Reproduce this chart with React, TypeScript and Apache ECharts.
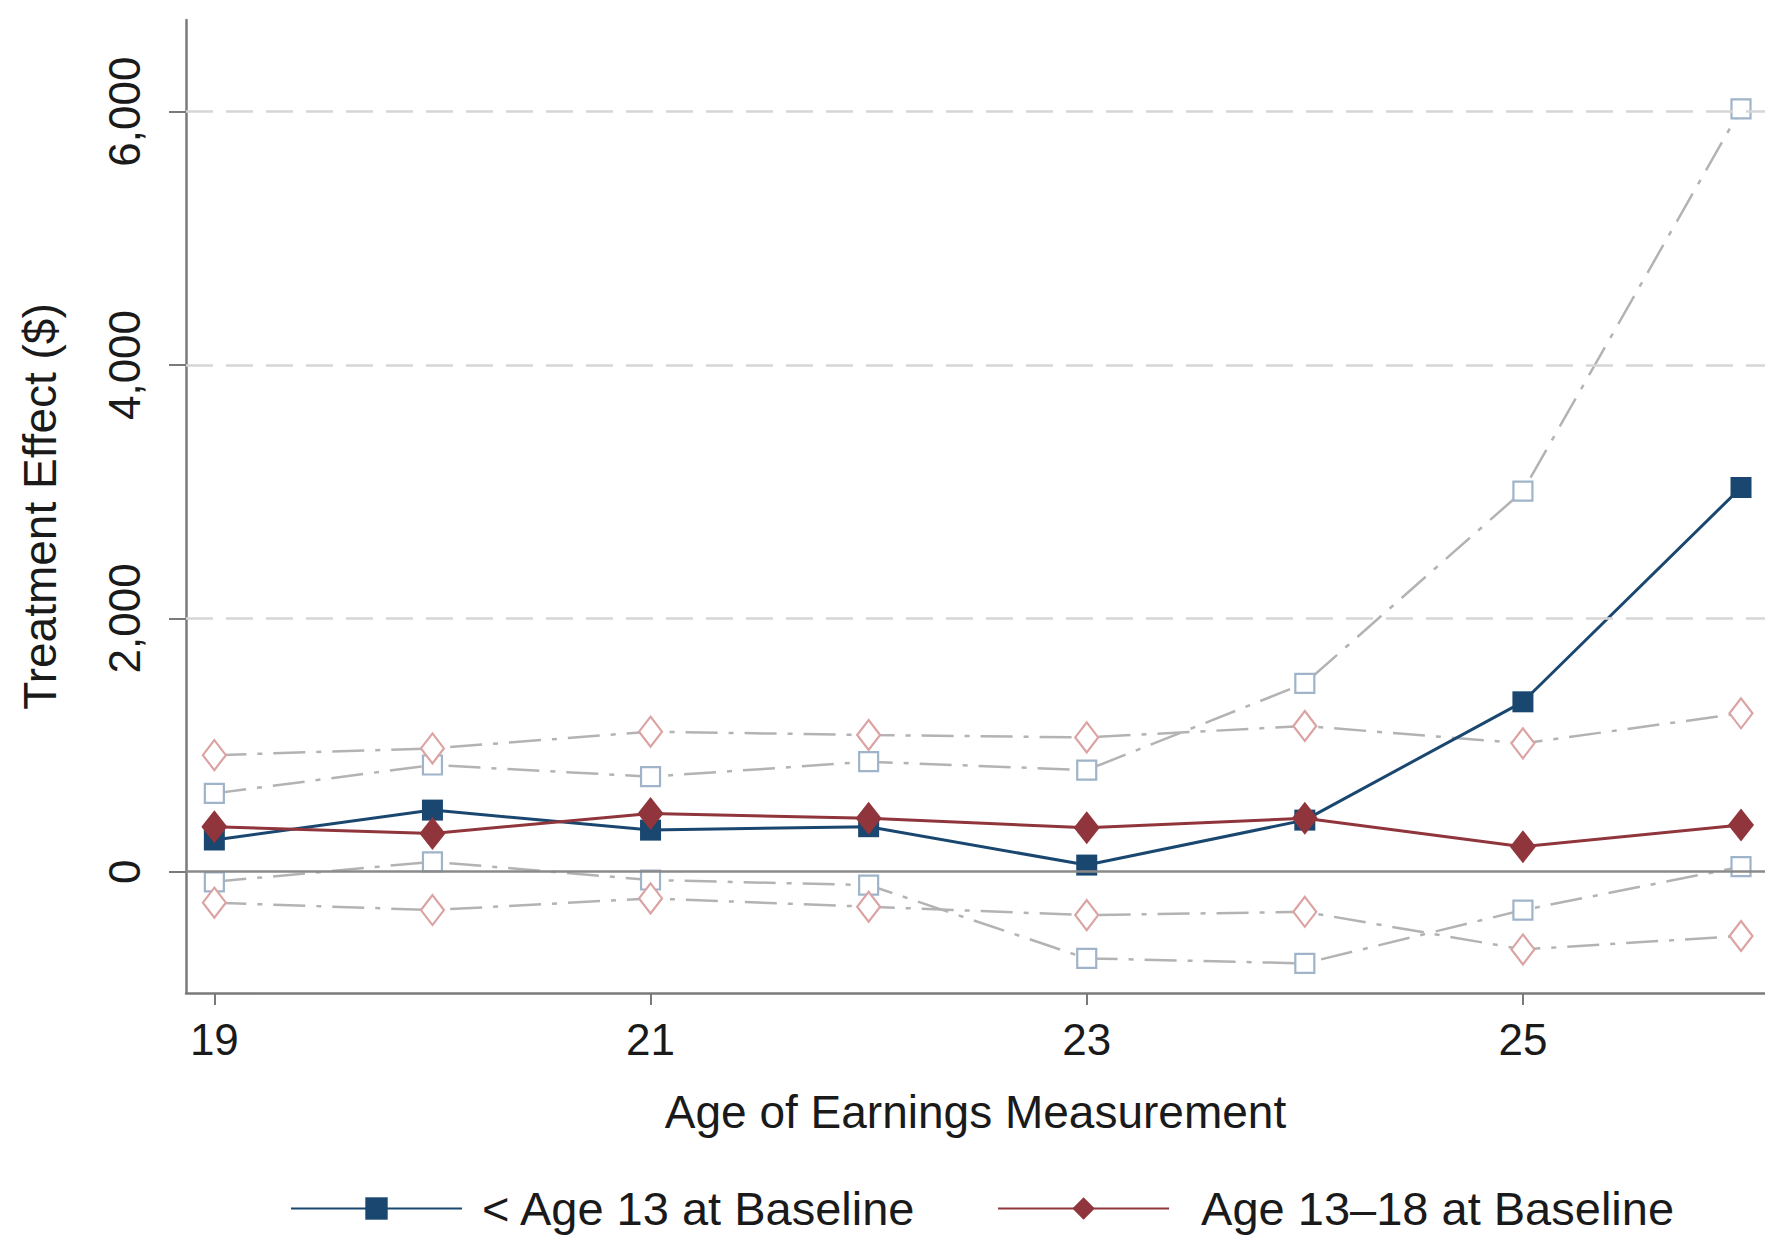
import React, { useEffect, useRef } from "react";
import * as echarts from "echarts";

const ages = [19, 20, 21, 22, 23, 24, 25, 26];
const under13 = [250, 486, 328, 355, 52, 407, 1341, 3033];
const age13to18 = [355, 302, 460, 421, 347, 421, 197, 368];
const under13Hi = [618, 842, 750, 868, 802, 1487, 3005, 6022];
const under13Lo = [-80, 78, -66, -106, -685, -724, -303, 39];
const age13to18Hi = [920, 973, 1105, 1079, 1060, 1150, 1013, 1250];
const age13to18Lo = [-245, -303, -211, -277, -343, -317, -614, -508];
const xTicks = [19, 21, 23, 25];
const yTicks = [0, 2000, 4000, 6000];
const gridValues = [2000, 4000, 6000];
const zeroLine = [0];
const legendNames = ["< Age 13 at Baseline", "Age 13\u201318 at Baseline"];

const FONT = "'Liberation Sans', Arial, Helvetica, sans-serif";
const NAVY = "#1a476f";
const MAROON = "#90353b";
const CI_LINE = "#b3b3b3";

const pairs = (vals: number[]) => ages.map((a, i) => [a, vals[i]]);

export default function App() {
  const ref = useRef<HTMLDivElement>(null);
  useEffect(() => {
    if (!ref.current) return;
    const chart = echarts.init(ref.current, undefined, { renderer: "svg" });
    const ciSeries = (name: string, vals: number[], symbol: string, size: any, color: string) => ({
      name,
      type: "line",
      data: pairs(vals),
      symbol,
      symbolSize: size,
      z: 2,
      lineStyle: { color: CI_LINE, width: 2.5, type: [32, 11, 5, 11] },
      itemStyle: { color: "#ffffff", borderColor: color, borderWidth: 2.2 },
      silent: true,
    });
    chart.setOption({
      animation: false,
      backgroundColor: "#ffffff",
      textStyle: { fontFamily: FONT },
      grid: { left: 186, right: 0, top: 20, bottom: 243, containLabel: false },
      xAxis: {
        type: "value",
        min: 18.87,
        max: 26.11,
        name: "Age of Earnings Measurement",
        nameLocation: "middle",
        nameGap: 96,
        nameTextStyle: { fontSize: 46, color: "#1a1a1a", fontFamily: FONT },
        axisLine: { show: true, onZero: false, lineStyle: { color: "#7a7a7a", width: 2.5 } },
        axisTick: { show: true, customValues: xTicks, length: 12, lineStyle: { color: "#7a7a7a", width: 2 } },
        axisLabel: { customValues: xTicks, fontSize: 44, color: "#1a1a1a", margin: 24, fontFamily: FONT },
        splitLine: { show: false },
      },
      yAxis: {
        type: "value",
        min: -958,
        max: 6724,
        name: "Treatment Effect ($)",
        nameLocation: "middle",
        nameGap: 123,
        nameTextStyle: { fontSize: 46, color: "#1a1a1a", fontFamily: FONT },
        axisLine: { show: true, onZero: false, lineStyle: { color: "#7a7a7a", width: 2.5 } },
        axisTick: { show: true, customValues: yTicks, length: 17, lineStyle: { color: "#7a7a7a", width: 2 } },
        axisLabel: {
          customValues: yTicks,
          rotate: 90,
          fontSize: 44,
          color: "#1a1a1a",
          margin: 40,
          fontFamily: FONT,
          formatter: (v: number) => v.toLocaleString("en-US"),
        },
        splitLine: { show: false },
      },
      legend: {
        data: [
          { name: legendNames[0] },
          { name: legendNames[1], textStyle: { padding: [0, 0, 0, 27] } },
        ],
        left: 285,
        top: 1180,
        itemWidth: 171,
        itemHeight: 28,
        itemGap: 80,
        textStyle: { fontSize: 47, lineHeight: 47, color: "#1a1a1a", fontFamily: FONT, padding: [0, 0, 0, 15] },
      },
      series: [
        {
          name: "grid",
          type: "line",
          data: [],
          silent: true,
          markLine: {
            silent: true,
            symbol: ["none", "none"],
            label: { show: false },
            lineStyle: { color: "#d6d6d6", width: 2.5, type: [27, 13] },
            data: gridValues.map((v) => ({ yAxis: v })),
          },
        },
        {
          name: "zero",
          type: "line",
          data: [],
          silent: true,
          markLine: {
            silent: true,
            symbol: ["none", "none"],
            label: { show: false },
            lineStyle: { color: "#8a8a8a", width: 2.5, type: "solid" },
            data: zeroLine.map((v) => ({ yAxis: v })),
          },
        },
        ciSeries("u13hi", under13Hi, "rect", 19, "#9fb4c9"),
        ciSeries("u13lo", under13Lo, "rect", 19, "#9fb4c9"),
        ciSeries("a1318hi", age13to18Hi, "diamond", [23, 30], "#dba3a3"),
        ciSeries("a1318lo", age13to18Lo, "diamond", [23, 30], "#dba3a3"),
        {
          name: legendNames[0],
          type: "line",
          data: pairs(under13),
          symbol: "rect",
          symbolSize: 21,
          z: 3,
          lineStyle: { color: NAVY, width: 3 },
          itemStyle: { color: NAVY },
        },
        {
          name: legendNames[1],
          type: "line",
          data: pairs(age13to18),
          symbol: "diamond",
          symbolSize: [26, 33],
          z: 4,
          lineStyle: { color: MAROON, width: 3 },
          itemStyle: { color: MAROON },
        },
      ],
    });
    return () => chart.dispose();
  }, []);
  return (
    <div
      ref={ref}
      style={{ position: "absolute", left: 0, top: 0, width: 1765, height: 1236, background: "#fff" }}
    />
  );
}
